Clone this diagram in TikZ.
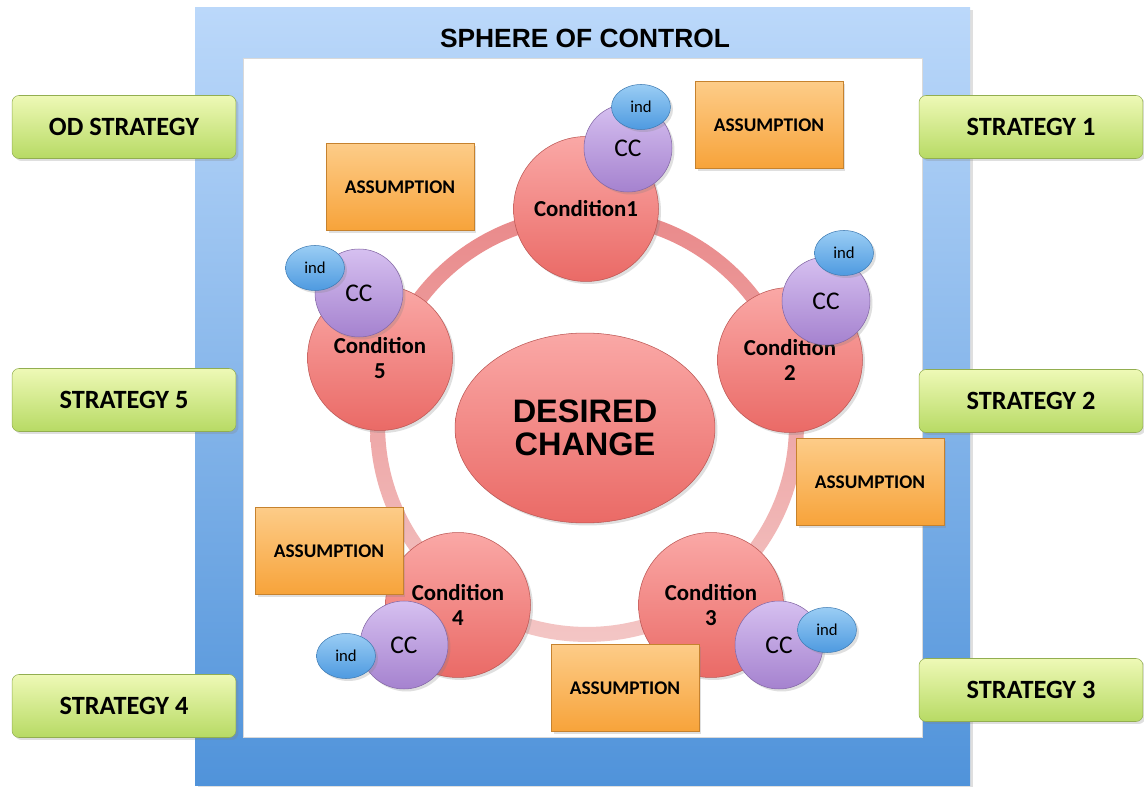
\documentclass[tikz,border=0pt]{standalone}
\usepackage{fontspec}
\setmainfont{Carlito}
\newfontfamily\arialfont{Liberation Sans}
\usetikzlibrary{shapes.geometric,shadows}

\definecolor{frametop}{HTML}{BBD8FA}
\definecolor{framebot}{HTML}{5093DA}
\definecolor{condtop}{HTML}{FAA8A6}
\definecolor{condbot}{HTML}{EA6A66}
\definecolor{ringtop}{HTML}{E9898A}
\definecolor{ringbot}{HTML}{F3C6C5}
\definecolor{cctop}{HTML}{D6C0F0}
\definecolor{ccbot}{HTML}{A582CF}
\definecolor{indtop}{HTML}{9ACDF4}
\definecolor{indbot}{HTML}{4E9AE0}
\definecolor{asstop}{HTML}{FDCC88}
\definecolor{assbot}{HTML}{F7A33A}
\definecolor{strtop}{HTML}{EEF9B6}
\definecolor{strbot}{HTML}{B7DA64}

\tikzset{
  softshadow/.style={drop shadow={shadow xshift=0.05cm, shadow yshift=-0.05cm, opacity=0.25}},
  condition/.style={circle, minimum size=2.9cm, inner sep=0pt, align=center,
    draw=condbot!80!black, line width=0.3pt, top color=condtop, bottom color=condbot,
    softshadow, font=\bfseries\fontsize{13}{14}\selectfont},
  cc/.style={circle, minimum size=1.76cm, inner sep=0pt,
    draw=ccbot!80!black, line width=0.3pt, top color=cctop, bottom color=ccbot,
    softshadow, font=\fontsize{14.5}{16}\selectfont},
  ind/.style={ellipse, minimum width=1.18cm, minimum height=0.9cm, inner sep=0pt,
    draw=indbot!80!black, line width=0.3pt, top color=indtop, bottom color=indbot,
    softshadow, font=\fontsize{9.5}{11}\selectfont},
  assumption/.style={rectangle, minimum width=2.96cm, minimum height=1.74cm,
    draw=assbot!80!black, line width=0.3pt, top color=asstop, bottom color=assbot,
    softshadow, font=\bfseries\fontsize{11}{13}\selectfont},
  strategy/.style={rectangle, rounded corners=0.14cm, minimum width=4.48cm, minimum height=1.26cm,
    draw=strbot!80!black, line width=0.3pt, top color=strtop, bottom color=strbot,
    softshadow, font=\bfseries\fontsize{15}{17}\selectfont},
  desired/.style={ellipse, minimum width=5.2cm, minimum height=3.8cm, inner sep=0pt, align=center,
    draw=condbot!80!black, line width=0.3pt, top color=condtop, bottom color=condbot,
    softshadow, font=\arialfont\bfseries\fontsize{18.5}{19}\selectfont},
}

\begin{document}
\begin{tikzpicture}[x=0.02cm, y=-0.02cm]
\useasboundingbox (0,0) rectangle (1144,787);

% sphere of control frame
\shade[top color=frametop, bottom color=framebot, softshadow] (195,8) rectangle (970,785);
\fill[white, draw=black!15] (243,58) rectangle (922,737);
\node (title) at (585,38) {\arialfont\bfseries\fontsize{15}{18}\selectfont SPHERE OF CONTROL};

% strategies around the frame
\node[strategy] (od) at (124,127) {OD STRATEGY};
\node[strategy] (s5) at (124,400) {STRATEGY 5};
\node[strategy] (s4) at (124,706) {STRATEGY 4};
\node[strategy] (s1) at (1031,127) {STRATEGY 1};
\node[strategy] (s2) at (1031,401) {STRATEGY 2};
\node[strategy] (s3) at (1031,690) {STRATEGY 3};

% ring through the conditions
\coordinate (ringc) at (587,425);
\shade[top color=ringtop, bottom color=ringbot, even odd rule]
  (ringc) circle (4.34cm) (ringc) circle (4.04cm);

\node[desired] (dc) at (585,428) {DESIRED\\CHANGE};

% conditions
\node[condition] (c1) at (586,209) {Condition1};
\node[condition] (c2) at (790,360) {Condition\\2};
\node[condition] (c3) at (711,605) {Condition\\3};
\node[condition] (c4) at (458,605) {Condition\\4};
\node[condition] (c5) at (380,358) {Condition\\5};

% contributing conditions and indicators
\node[cc] (cc1) at (628,148) {CC};
\node[cc] (cc2) at (826,301) {CC};
\node[cc] (cc3) at (779,645) {CC};
\node[cc] (cc4) at (404,645) {CC};
\node[cc] (cc5) at (359,293) {CC};

\node[ind] (i1) at (641,107) {ind};
\node[ind] (i2) at (844,253) {ind};
\node[ind] (i3) at (827,630) {ind};
\node[ind] (i4) at (346,656) {ind};
\node[ind] (i5) at (315,268) {ind};

% assumptions
\node[assumption] (a1) at (769,125) {ASSUMPTION};
\node[assumption] (a2) at (400,187) {ASSUMPTION};
\node[assumption] (a3) at (870,482) {ASSUMPTION};
\node[assumption] (a4) at (329,551) {ASSUMPTION};
\node[assumption] (a5) at (625,688) {ASSUMPTION};
\end{tikzpicture}
\end{document}
